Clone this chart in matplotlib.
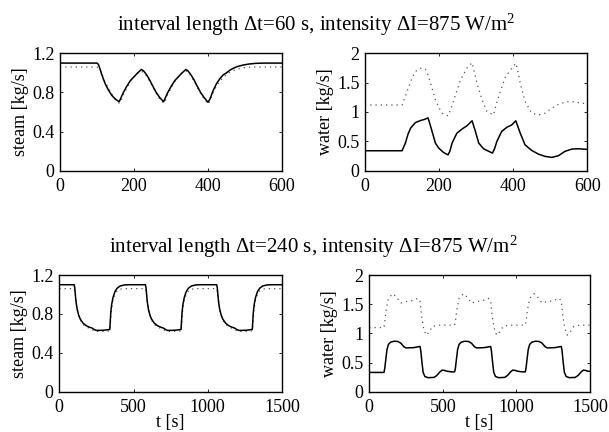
import matplotlib
matplotlib.use("Agg")
import matplotlib.pyplot as plt

plt.rcParams["font.family"] = ["Liberation Serif", "DejaVu Serif"]
plt.rcParams["mathtext.fontset"] = "custom"
plt.rcParams["mathtext.rm"] = "Liberation Serif"
plt.rcParams["mathtext.it"] = "Liberation Serif:italic"

# ---------------- interval 60 s : steam ----------------
t_steam60 = [0, 100, 104, 108, 115, 122, 130, 140, 150, 160, 163, 170, 180, 190, 200, 210, 220,
             226, 234, 242, 250, 260, 270, 280, 283, 290, 300, 310, 320, 330, 340, 346, 354, 362,
             370, 380, 390, 400, 405, 414, 423, 432, 441, 450, 460, 470, 480, 495, 510, 525, 540,
             560, 600]
steam60 = [1.1, 1.1, 1.085, 1.04, 0.96, 0.89, 0.83, 0.77, 0.73, 0.705, 0.73, 0.79, 0.86, 0.92,
           0.96, 1.0, 1.035, 1.02, 0.98, 0.93, 0.87, 0.80, 0.745, 0.705, 0.73, 0.79, 0.86, 0.92,
           0.96, 1.0, 1.035, 1.02, 0.98, 0.93, 0.87, 0.80, 0.745, 0.70, 0.73, 0.82, 0.89, 0.94,
           0.98, 1.0, 1.03, 1.05, 1.065, 1.08, 1.09, 1.096, 1.099, 1.1, 1.1]
t_steam60_ref = [0, 100, 110, 120, 130, 140, 150, 160, 165, 170, 180, 190, 200, 210, 220, 230,
                 240, 250, 260, 270, 280, 285, 290, 300, 310, 320, 330, 340, 350, 360, 370, 380,
                 390, 400, 405, 415, 425, 440, 460, 480, 500, 520, 600]
steam60_ref = [1.06, 1.06, 1.02, 0.92, 0.85, 0.78, 0.73, 0.69, 0.71, 0.77, 0.84, 0.91, 0.96,
               1.0, 1.02, 0.99, 0.93, 0.86, 0.79, 0.73, 0.69, 0.72, 0.77, 0.84, 0.91, 0.96, 1.0,
               1.02, 0.99, 0.93, 0.86, 0.79, 0.73, 0.68, 0.71, 0.81, 0.88, 0.95, 1.01, 1.04,
               1.055, 1.06, 1.06]

# ---------------- interval 60 s : water ----------------
t_water60 = [0, 100, 109, 116, 123, 136, 150, 161, 170, 175, 181, 190, 199, 212, 224, 229, 235,
             248, 262, 275, 289, 298, 307, 320, 334, 344, 350, 356, 369, 383, 396, 407, 419, 432,
             450, 468, 486, 504, 522, 540, 558, 576, 600]
water60 = [0.34, 0.34, 0.47, 0.62, 0.725, 0.82, 0.855, 0.875, 0.9, 0.8, 0.67, 0.47, 0.385, 0.31,
           0.27, 0.33, 0.47, 0.64, 0.71, 0.765, 0.85, 0.67, 0.47, 0.374, 0.33, 0.30, 0.38, 0.5,
           0.67, 0.74, 0.78, 0.85, 0.64, 0.44, 0.345, 0.283, 0.244, 0.227, 0.255, 0.33, 0.368,
           0.374, 0.363]
t_water60_ref = [0, 100, 108, 118, 127, 136, 150, 163, 170, 177, 190, 200, 208, 224, 232, 240,
                 258, 275, 289, 295, 302, 316, 329, 347, 353, 361, 379, 396, 407, 413, 419, 432,
                 450, 468, 486, 504, 522, 540, 558, 585, 600]
water60_ref = [1.12, 1.12, 1.25, 1.43, 1.58, 1.69, 1.745, 1.73, 1.63, 1.49, 1.21, 1.07, 0.98,
               0.935, 1.05, 1.21, 1.55, 1.745, 1.84, 1.68, 1.49, 1.21, 1.01, 0.95, 1.1, 1.27,
               1.6, 1.745, 1.83, 1.68, 1.49, 1.18, 0.98, 0.95, 0.98, 1.065, 1.13, 1.17, 1.18,
               1.15, 1.14]

# ---------------- interval 240 s : steam ----------------
t_steam240 = [0, 100, 104, 108, 113, 120, 130, 140, 160, 180, 200, 220, 235, 250, 300, 340, 343,
              347, 353, 362, 375, 390, 410, 440, 470,
              580, 584, 588, 593, 600, 610, 620, 640, 660, 680, 700, 715, 730, 780, 820, 823,
              827, 833, 842, 855, 870, 890, 920, 950,
              1060, 1064, 1068, 1073, 1080, 1090, 1100, 1120, 1140, 1160, 1180, 1195, 1210, 1260,
              1300, 1303, 1307, 1313, 1322, 1335, 1350, 1370, 1400, 1430, 1500]
steam240 = [1.1, 1.1, 1.07, 1.0, 0.92, 0.85, 0.79, 0.75, 0.705, 0.68, 0.665, 0.655, 0.64, 0.63,
            0.632, 0.64, 0.72, 0.82, 0.9, 0.97, 1.03, 1.065, 1.087, 1.098, 1.1,
            1.1, 1.07, 1.0, 0.92, 0.85, 0.79, 0.75, 0.705, 0.68, 0.665, 0.655, 0.64, 0.63,
            0.632, 0.64, 0.72, 0.82, 0.9, 0.97, 1.03, 1.065, 1.087, 1.098, 1.1,
            1.1, 1.07, 1.0, 0.92, 0.85, 0.79, 0.75, 0.705, 0.68, 0.665, 0.655, 0.64, 0.63,
            0.632, 0.64, 0.72, 0.82, 0.9, 0.97, 1.03, 1.065, 1.087, 1.098, 1.1, 1.1]
t_steam240_ref = [0, 100, 108, 115, 125, 140, 160, 190, 220, 240, 300, 340, 345, 352, 362, 380,
                  400, 430,
                  580, 588, 595, 605, 620, 640, 670, 700, 720, 780, 820, 825, 832, 842, 860,
                  880, 910,
                  1060, 1068, 1075, 1085, 1100, 1120, 1150, 1180, 1200, 1260, 1300, 1305, 1312,
                  1322, 1340, 1360, 1390, 1500]
steam240_ref = [1.06, 1.06, 1.0, 0.9, 0.81, 0.74, 0.69, 0.66, 0.64, 0.62, 0.62, 0.625, 0.72,
                0.85, 0.95, 1.02, 1.05, 1.06,
                1.06, 1.0, 0.9, 0.81, 0.74, 0.69, 0.66, 0.64, 0.62, 0.62, 0.625, 0.72, 0.85,
                0.95, 1.02, 1.05, 1.06,
                1.06, 1.0, 0.9, 0.81, 0.74, 0.69, 0.66, 0.64, 0.62, 0.62, 0.625, 0.72, 0.85,
                0.95, 1.02, 1.05, 1.06, 1.06]

# ---------------- interval 240 s : water ----------------
t_water240 = [0, 100, 105, 112, 120, 130, 145, 170, 195, 215, 235, 250, 300, 345, 350, 358, 366,
              378, 400, 440, 460, 480, 495, 510, 530, 560,
              580, 585, 592, 600, 610, 625, 650, 675, 695, 715, 730, 780, 825, 830, 838, 846,
              858, 880, 920, 940, 960, 975, 990, 1010, 1040,
              1060, 1065, 1072, 1080, 1090, 1105, 1130, 1155, 1175, 1195, 1210, 1260, 1305,
              1310, 1318, 1326, 1338, 1360, 1400, 1420, 1440, 1455, 1470, 1485, 1500]
water240 = [0.33, 0.33, 0.4, 0.55, 0.72, 0.81, 0.85, 0.865, 0.86, 0.83, 0.77, 0.75, 0.755, 0.775,
            0.7, 0.5, 0.33, 0.26, 0.24, 0.245, 0.28, 0.34, 0.37, 0.365, 0.35, 0.34,
            0.34, 0.4, 0.55, 0.72, 0.81, 0.85, 0.865, 0.86, 0.83, 0.77, 0.75, 0.755, 0.775,
            0.7, 0.5, 0.33, 0.26, 0.24, 0.245, 0.28, 0.34, 0.37, 0.365, 0.35, 0.34,
            0.34, 0.4, 0.55, 0.72, 0.81, 0.85, 0.865, 0.86, 0.83, 0.77, 0.75, 0.755, 0.775,
            0.7, 0.5, 0.33, 0.26, 0.24, 0.245, 0.28, 0.34, 0.37, 0.365, 0.35, 0.35]
t_water240_ref = [0, 100, 105, 115, 130, 160, 185, 215, 240, 290, 330, 345, 355, 368, 385, 400,
                  430, 470, 540,
                  580, 585, 595, 610, 640, 665, 695, 720, 770, 810, 825, 835, 848, 865, 880,
                  910, 950, 1020,
                  1060, 1065, 1075, 1090, 1120, 1145, 1175, 1200, 1250, 1290, 1305, 1315, 1328,
                  1345, 1360, 1390, 1430, 1500]
water240_ref = [1.1, 1.1, 1.2, 1.4, 1.6, 1.68, 1.62, 1.52, 1.54, 1.56, 1.6, 1.55, 1.3, 1.1,
                0.97, 1.0, 1.12, 1.14, 1.14,
                1.14, 1.2, 1.4, 1.6, 1.68, 1.62, 1.52, 1.54, 1.56, 1.6, 1.55, 1.3, 1.1, 0.97,
                1.0, 1.12, 1.14, 1.14,
                1.14, 1.2, 1.4, 1.6, 1.68, 1.62, 1.52, 1.54, 1.56, 1.6, 1.55, 1.3, 1.1, 0.97,
                1.0, 1.12, 1.14, 1.14]

steam_ticks = [0, 0.4, 0.8, 1.2]
steam_ticklabels = ["0", "0.4", "0.8", "1.2"]
water_ticks = [0, 0.5, 1, 1.5, 2]
water_ticklabels = ["0", "0.5", "1", "1.5", "2"]
x60_ticks = [0, 200, 400, 600]
x240_ticks = [0, 500, 1000, 1500]

W, H = 609, 432
fig = plt.figure(figsize=(W / 100, H / 100), dpi=100)


def px_axes(left, right, top, bottom):
    return fig.add_axes([left / W, 1 - bottom / H, (right - left) / W, (bottom - top) / H])


FS = 13
DOT = dict(color="#555555", lw=0.9, linestyle=(0, (1.0, 3.2)), dash_capstyle="butt")
SOLID = dict(color="black", lw=1.1)


def style(ax, xmax, xticks, yticks, yticklabels, ymax, ylabel, xlabel=None):
    ax.set_xlim(0, xmax)
    ax.set_ylim(0, ymax)
    ax.set_xticks(xticks)
    ax.set_xticklabels([str(v) for v in xticks])
    ax.set_yticks(yticks)
    ax.set_yticklabels(yticklabels)
    ax.tick_params(direction="in", length=2.5, width=0.6, top=True, right=True,
                   labelsize=FS, pad=4)
    ax.tick_params(axis="x", pad=5)
    for s in ax.spines.values():
        s.set_linewidth(1.0)
    ax.set_ylabel(ylabel, fontsize=FS)
    ax.yaxis.set_label_coords(-0.14, 0.5)
    if xlabel:
        ax.set_xlabel(xlabel, fontsize=FS, labelpad=-1)


ax1 = px_axes(60, 282, 53.3, 170.7)
ax1.plot(t_steam60_ref, steam60_ref, **DOT)
ax1.plot(t_steam60, steam60, **SOLID)
style(ax1, 600, x60_ticks, steam_ticks, steam_ticklabels, 1.2, "steam [kg/s]")

ax2 = px_axes(365, 587.3, 53.3, 170.7)
ax2.plot(t_water60_ref, water60_ref, **DOT)
ax2.plot(t_water60, water60, **SOLID)
style(ax2, 600, x60_ticks, water_ticks, water_ticklabels, 2, "water [kg/s]")

ax3 = px_axes(59.3, 282, 275, 391.7)
ax3.plot(t_steam240_ref, steam240_ref, **DOT)
ax3.plot(t_steam240, steam240, **SOLID)
style(ax3, 1500, x240_ticks, steam_ticks, steam_ticklabels, 1.2, "steam [kg/s]", "t [s]")

ax4 = px_axes(369.3, 590, 275, 391.7)
ax4.plot(t_water240_ref, water240_ref, **DOT)
ax4.plot(t_water240, water240, **SOLID)
style(ax4, 1500, x240_ticks, water_ticks, water_ticklabels, 2, "water [kg/s]", "t [s]")

fig.text(316 / W, 1 - 25 / H, "interval length \u0394t=60 s, intensity \u0394I=875 W/m$^{2}$",
         ha="center", va="center", fontsize=15)
fig.text(313 / W, 1 - 247 / H, "interval length \u0394t=240 s, intensity \u0394I=875 W/m$^{2}$",
         ha="center", va="center", fontsize=15)

fig.savefig("out.png", dpi=100)
